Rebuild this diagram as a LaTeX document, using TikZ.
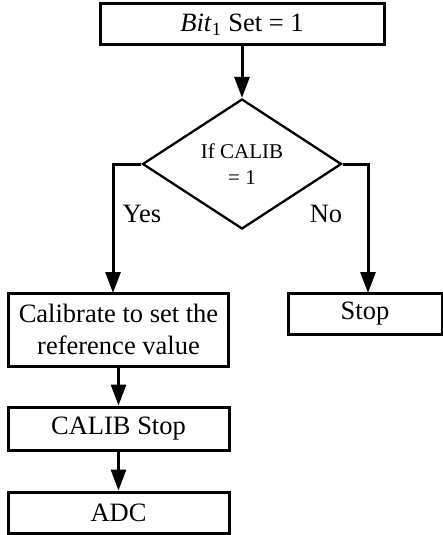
\documentclass[tikz,border=0pt]{standalone}
\usepackage{fontspec}
\setmainfont{Liberation Serif}
\usetikzlibrary{shapes.geometric,arrows.meta}
\begin{document}
\begin{tikzpicture}[x=1pt,y=-1pt,
  box/.style={draw, line width=3pt, rectangle, inner sep=0pt,
    font=\fontsize{26.5}{32.5}\selectfont, align=center},
  decision/.style={draw, line width=2.3pt, diamond, inner sep=0pt,
    minimum width=199pt, minimum height=130pt,
    font=\fontsize{21}{26}\selectfont, align=center},
  flow/.style={line width=3pt, -{Triangle[length=21pt,width=15pt]}},
  tag/.style={font=\fontsize{26.5}{31}\selectfont, inner sep=0pt}]
\useasboundingbox (0,0) rectangle (443,535);

% process boxes
\node[box, minimum width=284pt, minimum height=41pt] (set) at (242,24.5)
  {\textit{Bit}\textsubscript{1} Set = 1};
\node[decision] (dec) at (242,164) {If CALIB\\= 1};
\node[box, minimum width=220pt, minimum height=73pt] (calib) at (118.5,329.5)
  {Calibrate to set the\\reference value};
\node[box, minimum width=154pt, minimum height=41pt] (stop) at (365,313.5) {Stop};
\node[box, minimum width=221pt, minimum height=43pt] (cstop) at (118.5,428.5) {CALIB Stop};
\node[box, minimum width=221pt, minimum height=41pt] (adc) at (118.5,512.5) {ADC};

% branch labels
\node[tag] (yes) at (142,214) {Yes};
\node[tag] (no) at (326,214) {No};

% branch ends
\coordinate (yesend) at (113,293);
\coordinate (noend) at (368,293);

% connectors
\draw[flow] (set.south) -- (dec.north);
\draw[flow] (dec.west) -| (yesend);
\draw[flow] (dec.east) -| (noend);
\draw[flow] (calib.south) -- (cstop.north);
\draw[flow] (cstop.south) -- (adc.north);
\end{tikzpicture}
\end{document}
